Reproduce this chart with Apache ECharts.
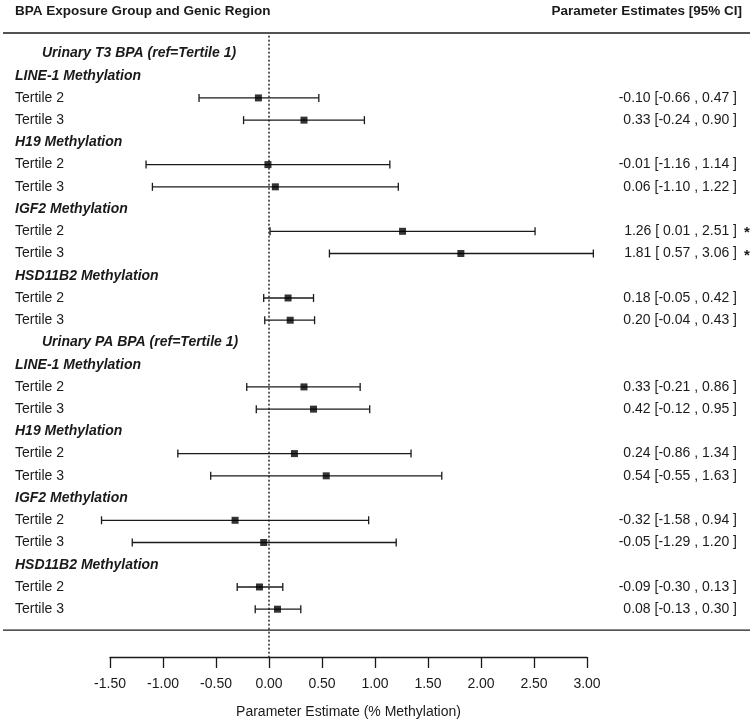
<!DOCTYPE html>
<html><head><meta charset="utf-8">
<script src="https://cdn.jsdelivr.net/npm/echarts@6/dist/echarts.min.js"></script>
<style>html,body{margin:0;padding:0;background:#fff}#c{width:755px;height:724px}</style>
</head><body><div id="c"></div>
<script>
const rowLabels = ['Urinary T3 BPA (ref=Tertile 1)','LINE-1 Methylation','Tertile 2','Tertile 3',
  'H19 Methylation','Tertile 2','Tertile 3','IGF2 Methylation','Tertile 2','Tertile 3',
  'HSD11B2 Methylation','Tertile 2','Tertile 3','Urinary PA BPA (ref=Tertile 1)',
  'LINE-1 Methylation','Tertile 2','Tertile 3','H19 Methylation','Tertile 2','Tertile 3',
  'IGF2 Methylation','Tertile 2','Tertile 3','HSD11B2 Methylation','Tertile 2','Tertile 3'];
const rowKinds = ['group','gene','tertile','tertile','gene','tertile','tertile','gene','tertile','tertile',
  'gene','tertile','tertile','group','gene','tertile','tertile','gene','tertile','tertile',
  'gene','tertile','tertile','gene','tertile','tertile'];
const estimates = [null,null,-0.10,0.33,null,-0.01,0.06,null,1.26,1.81,null,0.18,0.20,
  null,null,0.33,0.42,null,0.24,0.54,null,-0.32,-0.05,null,-0.09,0.08];
const lowerCI = [null,null,-0.66,-0.24,null,-1.16,-1.10,null,0.01,0.57,null,-0.05,-0.04,
  null,null,-0.21,-0.12,null,-0.86,-0.55,null,-1.58,-1.29,null,-0.30,-0.13];
const upperCI = [null,null,0.47,0.90,null,1.14,1.22,null,2.51,3.06,null,0.42,0.43,
  null,null,0.86,0.95,null,1.34,1.63,null,0.94,1.20,null,0.13,0.30];
const significant = [false,false,false,false,false,false,false,false,true,true,false,false,false,
  false,false,false,false,false,false,false,false,false,false,false,false,false];
const xMin = -1.5, xMax = 3.0, xStep = 0.5;
const headerLeft = 'BPA Exposure Group and Genic Region';
const headerRight = 'Parameter Estimates [95% CI]';
const axisTitle = 'Parameter Estimate (% Methylation)';

const FONT = '"Liberation Sans", Arial, sans-serif';
const INK = '#1a1a1a';
const yTop = -0.92, yBottom = 27.15, sepRow = 25.94;
const fmt = v => v.toFixed(2);
const fmtLo = v => (v < 0 ? '' : ' ') + v.toFixed(2);

const chart = echarts.init(document.getElementById('c'), null, {renderer: 'canvas'});

const ciData = [], ptData = [];
estimates.forEach((e, i) => {
  if (e !== null) {
    ciData.push([lowerCI[i], upperCI[i], i]);
    ptData.push([e, i]);
  }
});
const labelData = rowLabels.map((l, i) => [0, i]);

chart.setOption({
  animation: false,
  backgroundColor: '#fff',
  grid: {left: 110, right: 168, top: 33, bottom: 64},
  xAxis: {
    type: 'value', min: xMin, max: xMax, interval: xStep, position: 'bottom',
    axisLine: {show: true, onZero: false, lineStyle: {color: INK, width: 1.3}},
    axisTick: {show: true, length: 11, lineStyle: {color: INK, width: 1.3}},
    axisLabel: {formatter: v => fmt(v), fontSize: 14, color: INK, fontFamily: FONT, margin: 20},
    splitLine: {show: false},
    name: axisTitle, nameLocation: 'middle', nameGap: 48,
    nameTextStyle: {fontSize: 14, color: INK, fontFamily: FONT}
  },
  yAxis: {type: 'value', inverse: true, min: yTop, max: yBottom, show: false},
  series: [
    {
      type: 'line', data: [[0, -0.8], [0, yBottom]], symbol: 'none',
      lineStyle: {color: INK, width: 1.4, type: [2, 2]}, z: 1
    },
    {
      type: 'custom', data: ciData, clip: false, z: 2,
      encode: {x: [0, 1], y: 2},
      renderItem: (params, api) => {
        const r = api.value(2);
        const a = api.coord([api.value(0), r]);
        const b = api.coord([api.value(1), r]);
        const h = 4;
        const st = {stroke: INK, lineWidth: 1.3};
        return {type: 'group', children: [
          {type: 'line', shape: {x1: a[0], y1: a[1], x2: b[0], y2: b[1]}, style: st},
          {type: 'line', shape: {x1: a[0], y1: a[1] - h, x2: a[0], y2: a[1] + h}, style: st},
          {type: 'line', shape: {x1: b[0], y1: b[1] - h, x2: b[0], y2: b[1] + h}, style: st}
        ]};
      }
    },
    {
      type: 'scatter', data: ptData, symbol: 'rect', symbolSize: 7,
      itemStyle: {color: '#000'}, z: 3
    },
    {
      type: 'custom', data: labelData, clip: false, z: 4,
      encode: {x: 0, y: 1},
      renderItem: (params, api) => {
        const i = api.value(1);
        const y = api.coord([0, i])[1];
        const kind = rowKinds[i];
        const children = [{
          type: 'text',
          style: {
            text: rowLabels[i], x: kind === 'group' ? 42 : 15, y: y,
            textAlign: 'left', textVerticalAlign: 'middle',
            font: (kind === 'tertile' ? 'normal ' : 'italic bold ') + '14px ' + FONT,
            fill: INK
          }
        }];
        if (estimates[i] !== null) {
          children.push({
            type: 'text',
            style: {
              text: fmt(estimates[i]) + ' [' + fmtLo(lowerCI[i]) + ' , ' + fmt(upperCI[i]) + ' ]',
              x: 737, y: y, textAlign: 'right', textVerticalAlign: 'middle',
              font: 'normal 14px ' + FONT, fill: INK
            }
          });
          if (significant[i]) {
            children.push({
              type: 'text',
              style: {text: '*', x: 744, y: y + 2, textAlign: 'left', textVerticalAlign: 'middle',
                font: 'bold 15px ' + FONT, fill: INK}
            });
          }
        }
        return {type: 'group', children: children};
      }
    }
  ]
});

const yTopPx = chart.convertToPixel({yAxisIndex: 0}, yTop);
const ySepPx = chart.convertToPixel({yAxisIndex: 0}, sepRow);
chart.setOption({
  graphic: [
    {type: 'line', shape: {x1: 3, y1: yTopPx, x2: 750, y2: yTopPx}, style: {stroke: INK, lineWidth: 1.4}},
    {type: 'line', shape: {x1: 3, y1: ySepPx, x2: 750, y2: ySepPx}, style: {stroke: INK, lineWidth: 1.4}},
    {type: 'text', style: {text: headerLeft, x: 15, y: 11, textAlign: 'left', textVerticalAlign: 'middle',
      font: 'bold 13.5px ' + FONT, fill: INK}},
    {type: 'text', style: {text: headerRight, x: 742, y: 11, textAlign: 'right', textVerticalAlign: 'middle',
      font: 'bold 13.5px ' + FONT, fill: INK}}
  ]
});
</script></body></html>
